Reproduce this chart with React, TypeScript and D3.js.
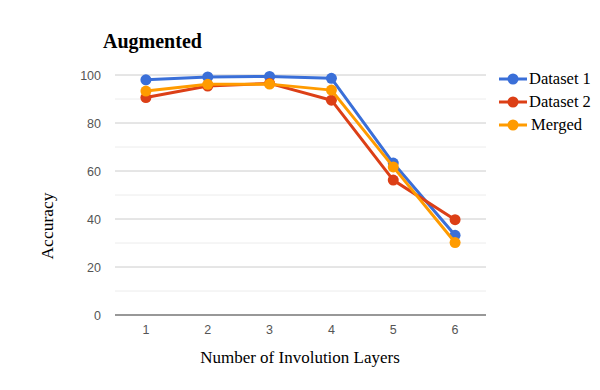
import { useEffect, useRef } from 'react';
import * as d3 from 'd3';

const layers = ['1', '2', '3', '4', '5', '6'];
const dataset1 = [98, 99.2, 99.4, 98.6, 63.3, 33.2];
const dataset2 = [90.6, 95.4, 96.5, 89.5, 56.2, 39.7];
const merged = [93.3, 96.1, 96.2, 93.7, 61.7, 30.2];
const yTicks = [0, 20, 40, 60, 80, 100];
const yMinor = [10, 30, 50, 70, 90];

const seriesNames = ['Dataset 1', 'Dataset 2', 'Merged'];
const seriesValues = [dataset1, dataset2, merged];
const colors = ['#3a6fd8', '#dc3f16', '#ff9b00'];

export default function App() {
  const svgRef = useRef<SVGSVGElement>(null);

  useEffect(() => {
    if (!svgRef.current) return;
    const svg = d3.select(svgRef.current);
    svg.selectAll('*').remove();

    const left = 115, right = 486, top = 75, bottom = 315;
    const serif = 'Liberation Serif, Times New Roman, serif';

    const x = d3.scaleBand().domain(layers).range([left, right]);
    const y = d3.scaleLinear().domain([0, 100]).range([bottom, top]);

    // minor grid
    svg.append('g')
      .selectAll('line')
      .data(yMinor)
      .enter().append('line')
      .attr('x1', left).attr('x2', right)
      .attr('y1', d => y(d)).attr('y2', d => y(d))
      .attr('stroke', '#ececec').attr('stroke-width', 1);

    // major grid
    svg.append('g')
      .selectAll('line')
      .data(yTicks.filter(d => d > 0))
      .enter().append('line')
      .attr('x1', left).attr('x2', right)
      .attr('y1', d => y(d)).attr('y2', d => y(d))
      .attr('stroke', '#cccccc').attr('stroke-width', 1);

    // baseline
    svg.append('line')
      .attr('x1', left).attr('x2', right)
      .attr('y1', y(0)).attr('y2', y(0))
      .attr('stroke', '#333').attr('stroke-width', 1.2);

    // y tick labels
    svg.append('g')
      .selectAll('text')
      .data(yTicks)
      .enter().append('text')
      .attr('x', 101)
      .attr('y', d => y(d) + 4.5)
      .attr('text-anchor', 'end')
      .attr('font-family', 'Arial, Liberation Sans, sans-serif')
      .attr('font-size', 12.5)
      .attr('fill', '#555')
      .text(d => d);

    // x tick labels
    svg.append('g')
      .selectAll('text')
      .data(layers)
      .enter().append('text')
      .attr('x', d => (x(d) as number) + x.bandwidth() / 2)
      .attr('y', 334)
      .attr('text-anchor', 'middle')
      .attr('font-family', 'Arial, Liberation Sans, sans-serif')
      .attr('font-size', 12.5)
      .attr('fill', '#555')
      .text(d => d);

    const line = d3.line<number>()
      .x((d, i) => (x(layers[i]) as number) + x.bandwidth() / 2)
      .y(d => y(d));

    seriesValues.forEach((vals, si) => {
      svg.append('path')
        .datum(vals)
        .attr('fill', 'none')
        .attr('stroke', colors[si])
        .attr('stroke-width', 3)
        .attr('stroke-linejoin', 'round')
        .attr('d', line);
      svg.append('g')
        .selectAll('circle')
        .data(vals)
        .enter().append('circle')
        .attr('cx', (d, i) => (x(layers[i]) as number) + x.bandwidth() / 2)
        .attr('cy', d => y(d))
        .attr('r', 5.5)
        .attr('fill', colors[si]);
    });

    // title
    svg.append('text')
      .attr('x', 103).attr('y', 48)
      .attr('font-family', serif)
      .attr('font-weight', 'bold')
      .attr('font-size', 20)
      .attr('fill', '#000')
      .text('Augmented');

    // axis titles
    svg.append('text')
      .attr('x', 300).attr('y', 363)
      .attr('text-anchor', 'middle')
      .attr('font-family', serif)
      .attr('font-size', 17)
      .attr('fill', '#000')
      .text('Number of Involution Layers');

    svg.append('text')
      .attr('transform', 'translate(53,226) rotate(-90)')
      .attr('text-anchor', 'middle')
      .attr('font-family', serif)
      .attr('font-size', 17.5)
      .attr('fill', '#000')
      .text('Accuracy');

    // legend
    const legend = svg.append('g');
    seriesNames.forEach((name, i) => {
      const ly = 79 + i * 23;
      legend.append('line')
        .attr('x1', 499).attr('x2', 527)
        .attr('y1', ly).attr('y2', ly)
        .attr('stroke', colors[i]).attr('stroke-width', 3);
      legend.append('circle')
        .attr('cx', 513).attr('cy', ly).attr('r', 5.5)
        .attr('fill', colors[i]);
      legend.append('text')
        .attr('x', i === 2 ? 531 : 529).attr('y', ly + 5)
        .attr('font-family', serif)
        .attr('font-size', 16.5)
        .attr('fill', '#000')
        .text(name);
    });
  }, []);

  return (
    <svg ref={svgRef} width={600} height={390}
      style={{ position: 'absolute', left: 0, top: 0, background: '#fff' }} />
  );
}
